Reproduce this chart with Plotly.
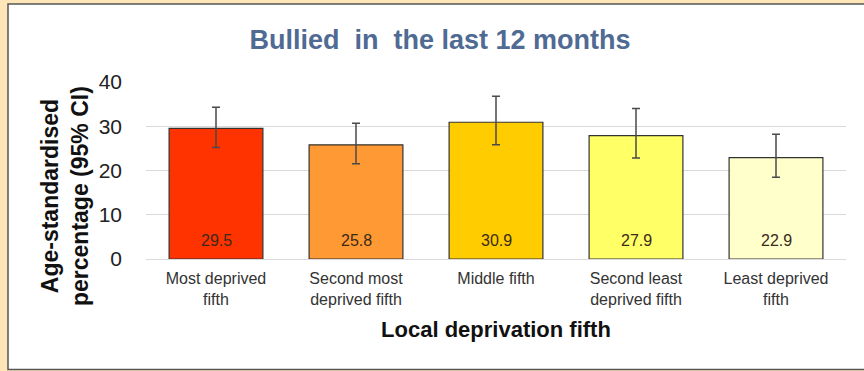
import plotly.graph_objects as go

categories = ["Most deprived<br>fifth", "Second most<br>deprived fifth", "Middle fifth",
              "Second least<br>deprived fifth", "Least deprived<br>fifth"]
values = [29.5, 25.8, 30.9, 27.9, 22.9]
ci_upper = [34.3, 30.7, 36.8, 34.0, 28.2]
ci_lower = [25.2, 21.5, 25.8, 22.8, 18.5]
bar_colors = ["#FF3300", "#FF9933", "#FFCC00", "#FFFF66", "#FFFFCC"]
y_ticks = [0, 10, 20, 30, 40]

W, H = 864, 371
ML, MR, MT, MB = 146, 18, 82, 112
PW, PH = W - ML - MR, H - MT - MB

def px_x(px):
    return (px - ML) / PW

def px_y(py):
    return (H - MB - py) / PH

fig = go.Figure()
fig.add_trace(go.Bar(
    x=categories, y=values,
    marker=dict(color=bar_colors, line=dict(color="#333333", width=1.2)),
    error_y=dict(type="data", symmetric=False,
                 array=[u - v for u, v in zip(ci_upper, values)],
                 arrayminus=[v - l for v, l in zip(values, ci_lower)],
                 color="#4a4a4a", thickness=1.5, width=4),
    hoverinfo="skip",
))

for c, v in zip(categories, values):
    fig.add_annotation(x=c, y=0, text=f"{v:.1f}", showarrow=False, yanchor="bottom",
                       yshift=8, font=dict(family="Liberation Sans", size=16, color="#3a2a1a"))

# y-axis title
fig.add_annotation(xref="paper", yref="paper", x=px_x(65), y=px_y(196),
                   text="<b>Age-standardised<br>percentage (95% CI)</b>", textangle=-90,
                   showarrow=False, xanchor="center", yanchor="middle",
                   font=dict(family="Liberation Sans", size=23, color="#111111"))

# background frame
fig.add_shape(type="rect", xref="paper", yref="paper", layer="below",
              x0=px_x(8), x1=px_x(870), y0=px_y(369.5), y1=px_y(4),
              fillcolor="white", line=dict(color="#555555", width=1.5))

fig.update_layout(
    width=W, height=H,
    margin=dict(l=ML, r=MR, t=MT, b=MB),
    paper_bgcolor="#FFE6B8", plot_bgcolor="rgba(0,0,0,0)",
    bargap=0.33, showlegend=False,
    title=dict(text="<b>Bullied  in  the last 12 months</b>", x=440 / W, xanchor="center",
               y=1 - 40 / H, yanchor="middle",
               font=dict(family="Liberation Sans", size=27, color="#4F6A93")),
    xaxis=dict(tickfont=dict(family="Liberation Sans Narrow, Liberation Sans", size=16, color="#333333"),
               showline=False, ticks="", ticklabelstandoff=8,
               title=dict(text="<b>Local deprivation fifth</b>", standoff=14,
                          font=dict(family="Liberation Sans", size=22, color="#111111"))),
    yaxis=dict(range=[0, 40], tickvals=y_ticks, showgrid=True, gridcolor="#D9D9D9", gridwidth=1,
               zeroline=True, zerolinecolor="#D9D9D9", zerolinewidth=1,
               tickfont=dict(family="Liberation Sans", size=21, color="#222222"),
               ticklabelstandoff=23, ticks=""),
)

fig.write_html("out.html", config={"displayModeBar": False},
               post_script="document.body.style.margin='0';")
